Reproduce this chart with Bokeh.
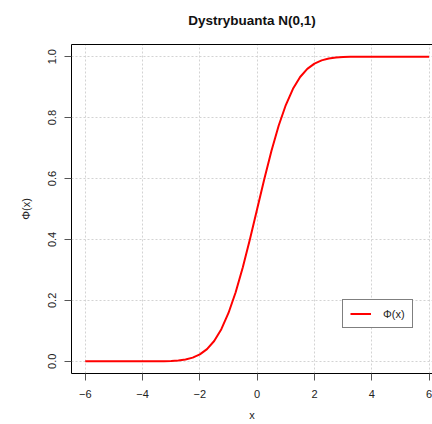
from bokeh.plotting import figure
from bokeh.models import Range1d, LinearAxis, FixedTicker, Legend, LegendItem
from bokeh.embed import file_html
from bokeh.resources import INLINE

# Standard normal CDF, tabulated
x_vals = [-6.0, -5.75, -5.5, -5.25, -5.0, -4.75, -4.5, -4.25, -4.0, -3.75,
          -3.5, -3.25, -3.0, -2.75, -2.5, -2.25, -2.0, -1.75, -1.5, -1.25,
          -1.0, -0.75, -0.5, -0.25, 0.0, 0.25, 0.5, 0.75, 1.0, 1.25,
          1.5, 1.75, 2.0, 2.25, 2.5, 2.75, 3.0, 3.25, 3.5, 3.75,
          4.0, 4.25, 4.5, 4.75, 5.0, 5.25, 5.5, 5.75, 6.0]
phi_vals = [0.0, 0.0, 0.0, 0.0, 0.0, 0.0, 0.0, 0.0, 0.0, 0.0001,
            0.0002, 0.0006, 0.0013, 0.0030, 0.0062, 0.0122, 0.0228, 0.0401, 0.0668, 0.1056,
            0.1587, 0.2266, 0.3085, 0.4013, 0.5000, 0.5987, 0.6915, 0.7734, 0.8413, 0.8944,
            0.9332, 0.9599, 0.9772, 0.9878, 0.9938, 0.9970, 0.9987, 0.9994, 0.9998, 0.9999,
            1.0, 1.0, 1.0, 1.0, 1.0, 1.0, 1.0, 1.0, 1.0]

x_ticks = [-6, -4, -2, 0, 2, 4, 6]
y_ticks = [0.0, 0.2, 0.4, 0.6, 0.8, 1.0]
y_tick_labels = {0.0: "0.0", 0.2: "0.2", 0.4: "0.4", 0.6: "0.6", 0.8: "0.8", 1.0: "1.0"}

FONT = "Liberation Sans"
TICK_COLOR = "#555555"
TEXT_COLOR = "#222222"

# trailing blank line lifts the title higher above the frame
p = figure(width=432, height=424, output_backend="svg", toolbar_location=None,
           x_range=Range1d(-6.48, 6.12), y_range=Range1d(-0.04, 1.04),
           min_border_left=71, min_border_right=0, min_border_top=44,
           min_border_bottom=51, x_axis_location=None, y_axis_location=None,
           title="Dystrybuanta N(0,1)\n")
p.outline_line_color = None
p.background_fill_color = "white"
p.border_fill_color = "white"

p.title.align = "center"
p.title.offset = 10
p.title.standoff = 4
p.title.text_font = FONT
p.title.text_font_size = "13.5px"
p.title.text_font_style = "bold"
p.title.text_color = "#111111"

xaxis = LinearAxis(ticker=FixedTicker(ticks=x_ticks), axis_label="x")
yaxis = LinearAxis(ticker=FixedTicker(ticks=y_ticks), axis_label="\u03a6(x)",
                   major_label_orientation="vertical",
                   major_label_overrides=y_tick_labels)
for ax in (xaxis, yaxis):
    ax.axis_line_color = "black"
    ax.axis_line_width = 1
    ax.major_tick_line_color = TICK_COLOR
    ax.major_tick_out = 7
    ax.major_tick_in = 0
    ax.minor_tick_line_color = None
    ax.major_label_text_font = FONT
    ax.major_label_text_font_size = "11px"
    ax.major_label_text_color = TEXT_COLOR
    ax.axis_label_text_font = FONT
    ax.axis_label_text_font_size = "11px"
    ax.axis_label_text_font_style = "normal"
    ax.axis_label_text_color = TEXT_COLOR
xaxis.major_label_standoff = 9
xaxis.axis_label_standoff = 8
yaxis.major_label_standoff = 8
yaxis.axis_label_standoff = 14
p.add_layout(xaxis, "below")
p.add_layout(yaxis, "left")

# plain top border line
top = LinearAxis(ticker=FixedTicker(ticks=[]), major_tick_line_color=None,
                 minor_tick_line_color=None, major_label_text_font_size="0px",
                 major_label_standoff=0, major_tick_out=0,
                 axis_line_color="black")
p.add_layout(top, "above")

for g, ticks in ((p.xgrid, x_ticks), (p.ygrid, y_ticks)):
    g.ticker = FixedTicker(ticks=ticks)
    g.grid_line_color = "#d3d3d3"
    g.grid_line_dash = "2 2"
    g.grid_line_width = 1

r = p.line(x_vals, phi_vals, line_color="red", line_width=2, line_join="round")

legend = Legend(items=[LegendItem(label="\u03a6(x)", renderers=[r])],
                location=(271, 45), padding=7, margin=0, spacing=0,
                glyph_width=21, glyph_height=13, label_height=13,
                label_standoff=12,
                label_text_font=FONT, label_text_font_size="11px",
                label_text_color=TEXT_COLOR,
                border_line_color="black", border_line_width=1,
                background_fill_color="white", background_fill_alpha=1.0)
p.add_layout(legend, "center")

open("out.html", "w").write(file_html(p, INLINE))
